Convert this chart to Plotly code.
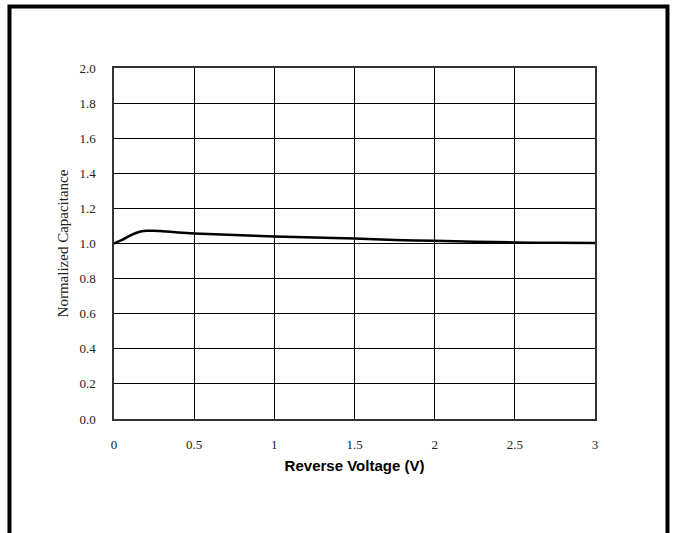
import plotly.graph_objects as go

voltage = [0, 0.05, 0.1, 0.15, 0.2, 0.25, 0.3, 0.4, 0.5, 0.75, 1.0, 1.25, 1.5, 1.75, 2.0, 2.25, 2.5, 2.75, 3.0]
capacitance = [1.000, 1.020, 1.045, 1.064, 1.072, 1.073, 1.070, 1.063, 1.057, 1.048, 1.040, 1.034, 1.028, 1.020, 1.015, 1.010, 1.006, 1.004, 1.003]

x_ticks = [0, 0.5, 1, 1.5, 2, 2.5, 3]
x_tick_labels = ["0", "0.5", "1", "1.5", "2", "2.5", "3"]
y_ticks = [0.0, 0.2, 0.4, 0.6, 0.8, 1.0, 1.2, 1.4, 1.6, 1.8, 2.0]
y_tick_labels = ["0.0", "0.2", "0.4", "0.6", "0.8", "1.0", "1.2", "1.4", "1.6", "1.8", "2.0"]

fig = go.Figure()
fig.add_trace(go.Scatter(x=voltage, y=capacitance, mode="lines",
                         line=dict(color="black", width=2.5, shape="spline", smoothing=0.6),
                         showlegend=False, hoverinfo="skip"))

serif = "Liberation Serif, Times New Roman, serif"
fig.update_layout(
    width=677, height=533,
    margin=dict(l=114, r=82, t=68, b=114),
    paper_bgcolor="white", plot_bgcolor="white",
    xaxis=dict(range=[0, 3], tickvals=x_ticks, ticktext=x_tick_labels,
               showgrid=True, gridcolor="black", gridwidth=1,
               showline=True, linecolor="#333", linewidth=1.5, mirror=True,
               zeroline=False, ticks="", ticklabelstandoff=13,
               tickfont=dict(family=serif, size=13, color="#222"),
               title=dict(text="Reverse Voltage (V)", standoff=9,
                          font=dict(family="Liberation Sans, Arial, sans-serif", size=15, color="black", weight="bold"))),
    yaxis=dict(range=[0, 2], tickvals=y_ticks, ticktext=y_tick_labels,
               showgrid=True, gridcolor="black", gridwidth=1,
               showline=True, linecolor="#333", linewidth=1.5, mirror=True,
               zeroline=False, ticks="", ticklabelstandoff=14,
               tickfont=dict(family=serif, size=13, color="#222"),
               title=dict(text="Normalized Capacitance", standoff=7,
                          font=dict(family=serif, size=15, color="#222"))),
    shapes=[dict(type="rect", xref="paper", yref="paper",
                 x0=-0.2173, x1=1.1507, y0=-0.6, y1=1.1752,
                 line=dict(color="black", width=4), fillcolor="rgba(0,0,0,0)", layer="above")],
)

fig.write_html("out.html")
